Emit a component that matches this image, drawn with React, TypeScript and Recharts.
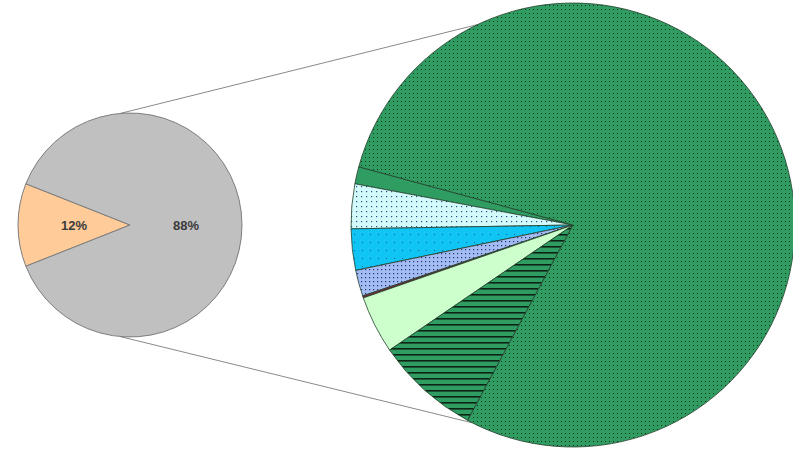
import React from "react";
import { PieChart, Pie, Cell, Customized } from "recharts";

// Primary pie: the small slice stays, the large one is broken out on the right.
const primaryNames = ["Segment A", "Other"];
const primaryValues = [12, 88];
const primaryLabels = ["12%", "88%"];

// Breakdown of "Other" (percent of the secondary pie), counter-clockwise order.
const breakdownNames = [
  "Group 1",
  "Group 2",
  "Group 3",
  "Group 4",
  "Group 5",
  "Group 6",
  "Group 7",
  "Group 8",
];
const breakdownValues = [1.25, 3.25, 3.0, 1.9, 0.15, 4.2, 7.6, 78.65];
const breakdownFills = [
  "#2f9c62",
  "url(#dotCyanLight)",
  "url(#dotCyan)",
  "url(#dotBlue)",
  "#7a2a3a",
  "#ccffcc",
  "url(#hatchGreen)",
  "url(#dotGreen)",
];

const W = 793;
const H = 450;
const SMALL = { cx: 130, cy: 225, r: 112 };
const BIG = { cx: 573, cy: 225, r: 222 };

const primaryData = primaryNames.map((name, i) => ({
  name,
  value: primaryValues[i],
  label: primaryLabels[i],
}));
const breakdownData = breakdownNames.map((name, i) => ({
  name,
  value: breakdownValues[i],
}));

const RAD = Math.PI / 180;
const polar = (c: { cx: number; cy: number; r: number }, deg: number) => ({
  x: c.cx + c.r * Math.cos(deg * RAD),
  y: c.cy - c.r * Math.sin(deg * RAD),
});

// The small slice is centred on the left (180deg).
const smallSpan = (primaryValues[0] / 100) * 360;
const smallStart = 180 - smallSpan / 2;
const bigStart = 164.8;

const renderPrimaryLabel = (props: any) => {
  const { cx, cy, midAngle, outerRadius, payload } = props;
  const rr = outerRadius * 0.5;
  const x = cx + rr * Math.cos(-midAngle * RAD);
  const y = cy + rr * Math.sin(-midAngle * RAD);
  return (
    <text
      x={x}
      y={y}
      textAnchor="middle"
      dominantBaseline="central"
      fontFamily="Liberation Sans, Arial, sans-serif"
      fontSize={13}
      fontWeight="bold"
      fill="#3a3a3a"
    >
      {payload.label}
    </text>
  );
};

const Connectors = () => {
  const a1 = polar(SMALL, 95);
  const b1 = polar(BIG, 115.5);
  const a2 = polar(SMALL, 265);
  const b2 = polar(BIG, 243);
  return (
    <g>
      <line x1={a1.x} y1={a1.y} x2={b1.x} y2={b1.y} stroke="#8a8a8a" strokeWidth={1} />
      <line x1={a2.x} y1={a2.y} x2={b2.x} y2={b2.y} stroke="#8a8a8a" strokeWidth={1} />
    </g>
  );
};

export default function App() {
  return (
    <div style={{ position: "absolute", left: 0, top: 0, width: W, height: H, background: "#fff" }}>
      <PieChart width={W} height={H} margin={{ top: 0, right: 0, bottom: 0, left: 0 }}>
        <defs>
          <pattern id="dotGreen" width="4" height="4" patternUnits="userSpaceOnUse">
            <rect width="4" height="4" fill="#2f9c62" />
            <rect x="1" y="1" width="1" height="1" fill="#0f2f1a" />
          </pattern>
          <pattern id="dotCyanLight" width="5" height="5" patternUnits="userSpaceOnUse">
            <rect width="5" height="5" fill="#d4fbfb" />
            <rect x="1" y="1" width="1.2" height="1.2" fill="#2c4f8a" />
          </pattern>
          <pattern id="dotCyan" width="8" height="8" patternUnits="userSpaceOnUse">
            <rect width="8" height="8" fill="#10c4f4" />
            <rect x="2" y="2" width="1" height="1" fill="#1d5a9a" />
          </pattern>
          <pattern id="dotBlue" width="4" height="4" patternUnits="userSpaceOnUse">
            <rect width="4" height="4" fill="#a3bdf2" />
            <rect x="1" y="1" width="1.2" height="1.2" fill="#28307a" />
          </pattern>
          <pattern id="hatchGreen" width="6" height="6" patternUnits="userSpaceOnUse">
            <rect width="6" height="6" fill="#2f9c62" />
            <rect x="0" y="0" width="6" height="1.6" fill="#0b2414" />
          </pattern>
        </defs>

        <Pie
          data={primaryData}
          dataKey="value"
          nameKey="name"
          cx={SMALL.cx}
          cy={SMALL.cy}
          outerRadius={SMALL.r}
          startAngle={smallStart}
          endAngle={smallStart + 360}
          stroke="#7d7d7d"
          strokeWidth={1}
          label={renderPrimaryLabel}
          labelLine={false}
          isAnimationActive={false}
        >
          <Cell fill="#ffcc99" />
          <Cell fill="#c0c0c0" />
        </Pie>

        <Pie
          data={breakdownData}
          dataKey="value"
          nameKey="name"
          cx={BIG.cx}
          cy={BIG.cy}
          outerRadius={BIG.r}
          startAngle={bigStart}
          endAngle={bigStart + 360}
          stroke="#23402c"
          strokeWidth={0.8}
          isAnimationActive={false}
        >
          {breakdownData.map((d, i) => (
            <Cell key={d.name} fill={breakdownFills[i]} />
          ))}
        </Pie>

        <Customized component={Connectors} />
      </PieChart>
    </div>
  );
}
